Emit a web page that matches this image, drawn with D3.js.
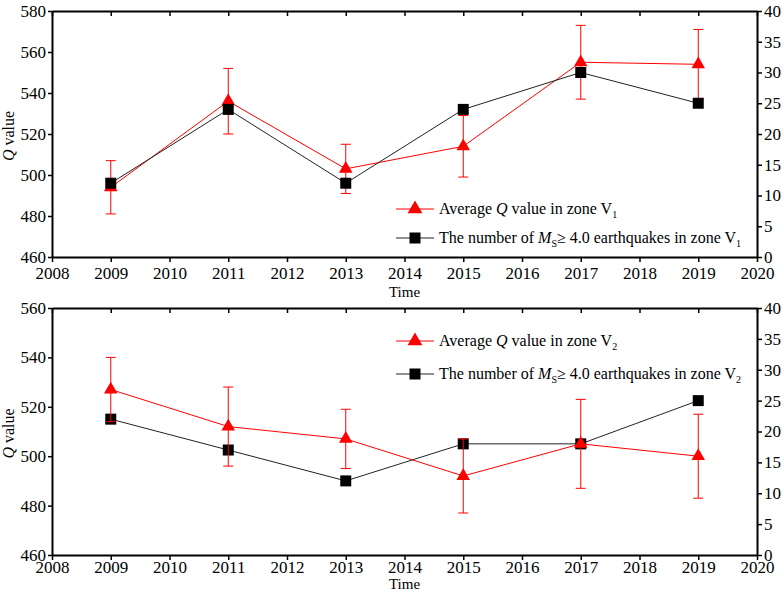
<!DOCTYPE html>
<html>
<head>
<meta charset="utf-8">
<script src="https://cdn.jsdelivr.net/npm/d3@7"></script>
<style>
  body { margin: 0; background: #fff; }
  svg { font-family: "Liberation Serif", "Times New Roman", serif; }
</style>
</head>
<body>
<div id="chart"></div>
<script>
// values
const years = [2009, 2011, 2013, 2015, 2017, 2019];
const qV1 = [494, 536, 503, 514, 555, 554];
const qV1Err = [13, 16, 12, 15, 18, 17];
const countV1 = [12, 24, 12, 24, 30, 25];
const qV2 = [527, 512, 507, 492, 505, 500];
const qV2Err = [13, 16, 12, 15, 18, 17];
const countV2 = [22, 17, 12, 18, 18, 25];

const xDomain = [2008, 2020];
const xTicks = d3.range(2008, 2021, 1);

const width = 782, height = 591;

const svg = d3.select("#chart")
  .append("svg")
  .attr("width", width)
  .attr("height", height);

const panels = [
  { top: 11, bottom: 257, qDomain: [460, 580], q: qV1, err: qV1Err, count: countV1,
    zone: "1", legendY: [209, 238], titleY: 297, xPad: 5, redOnTop: false },
  { top: 308, bottom: 555, qDomain: [460, 560], q: qV2, err: qV2Err, count: countV2,
    zone: "2", legendY: [341, 374], titleY: 589, xPad: 1, redOnTop: true }
];

const left = 52, right = 757;

const x = d3.scaleLinear().domain(xDomain).range([left, right]);

function legendText(sel, parts) {
  parts.forEach(p => {
    const t = sel.append("tspan").text(p.t);
    if (p.i) t.style("font-style", "italic");
    if (p.sub) t.attr("font-size", 10).attr("dy", 4);
    if (p.up) t.attr("dy", -4);
  });
}

panels.forEach(p => {
  const y = d3.scaleLinear().domain(p.qDomain).range([p.bottom, p.top]);
  const y2 = d3.scaleLinear().domain([0, 40]).range([p.bottom, p.top]);
  const g = svg.append("g");

  // axes
  const bottomAxis = g.append("g")
    .attr("transform", `translate(0,${p.bottom})`)
    .call(d3.axisBottom(x).tickValues(xTicks).tickFormat(d3.format("d"))
      .tickSizeInner(5).tickSizeOuter(0).tickPadding(p.xPad));
  const topAxis = g.append("g")
    .attr("transform", `translate(0,${p.top})`)
    .call(d3.axisTop(x).tickValues(xTicks).tickFormat("")
      .tickSizeInner(-5).tickSizeOuter(0));
  const leftAxis = g.append("g")
    .attr("transform", `translate(${left},0)`)
    .call(d3.axisLeft(y).ticks(6).tickSizeInner(4).tickSizeOuter(0).tickPadding(2));
  const rightAxis = g.append("g")
    .attr("transform", `translate(${right},0)`)
    .call(d3.axisRight(y2).ticks(8).tickSizeInner(5).tickSizeOuter(0).tickPadding(2));

  [bottomAxis, topAxis, leftAxis, rightAxis].forEach(a => {
    a.select(".domain").attr("stroke", "#000").attr("stroke-width", 2);
    a.selectAll(".tick line").attr("stroke", "#000").attr("stroke-width", 1.5);
    a.selectAll(".tick text")
      .attr("fill", "#000")
      .attr("font-size", 17)
      .attr("font-family", "Liberation Serif, Times New Roman, serif");
  });

  // axis titles
  g.append("text")
    .attr("x", (left + right) / 2)
    .attr("y", p.titleY)
    .attr("text-anchor", "middle")
    .attr("font-size", 15)
    .text("Time");

  const yl = g.append("text")
    .attr("transform", `translate(14,${(p.top + p.bottom) / 2 + 2}) rotate(-90)`)
    .attr("text-anchor", "middle")
    .attr("font-size", 16);
  yl.append("tspan").style("font-style", "italic").text("Q");
  yl.append("tspan").text(" value");

  const redLine = d3.line().x((d, i) => x(years[i])).y(d => y(d));
  const blackLine = d3.line().x((d, i) => x(years[i])).y(d => y2(d));

  function drawRed() {
    const r = g.append("g");
    r.append("path")
      .attr("d", redLine(p.q))
      .attr("fill", "none")
      .attr("stroke", "#ff0000")
      .attr("stroke-width", 1);
    const eb = r.selectAll(".err")
      .data(p.q)
      .join("g");
    eb.append("line")
      .attr("x1", (d, i) => x(years[i]))
      .attr("x2", (d, i) => x(years[i]))
      .attr("y1", (d, i) => y(d - p.err[i]))
      .attr("y2", (d, i) => y(d + p.err[i]))
      .attr("stroke", "#ff0000");
    [-1, 1].forEach(s => {
      eb.append("line")
        .attr("x1", (d, i) => x(years[i]) - 5)
        .attr("x2", (d, i) => x(years[i]) + 5)
        .attr("y1", (d, i) => y(d + s * p.err[i]))
        .attr("y2", (d, i) => y(d + s * p.err[i]))
        .attr("stroke", "#ff0000");
    });
    r.selectAll(".tri")
      .data(p.q)
      .join("path")
      .attr("d", d3.symbol(d3.symbolTriangle, 80))
      .attr("transform", (d, i) => `translate(${x(years[i])},${y(d)})`)
      .attr("fill", "#ff0000");
  }

  function drawBlack() {
    const b = g.append("g");
    b.append("path")
      .attr("d", blackLine(p.count))
      .attr("fill", "none")
      .attr("stroke", "#222")
      .attr("stroke-width", 1);
    b.selectAll(".sq")
      .data(p.count)
      .join("path")
      .attr("d", d3.symbol(d3.symbolSquare, 121))
      .attr("transform", (d, i) => `translate(${x(years[i])},${y2(d)})`)
      .attr("fill", "#000");
  }

  if (p.redOnTop) { drawBlack(); drawRed(); } else { drawRed(); drawBlack(); }

  // legend
  const lx0 = 396, lx1 = 434, lm = 415, tx = 439;
  const lg = g.append("g");
  lg.append("line").attr("x1", lx0).attr("x2", lx1)
    .attr("y1", p.legendY[0]).attr("y2", p.legendY[0])
    .attr("stroke", "#ff0000");
  lg.append("path")
    .attr("d", d3.symbol(d3.symbolTriangle, 95))
    .attr("transform", `translate(${lm},${p.legendY[0]})`)
    .attr("fill", "#ff0000");
  lg.append("line").attr("x1", lx0).attr("x2", lx1)
    .attr("y1", p.legendY[1]).attr("y2", p.legendY[1])
    .attr("stroke", "#222");
  lg.append("path")
    .attr("d", d3.symbol(d3.symbolSquare, 121))
    .attr("transform", `translate(${lm},${p.legendY[1]})`)
    .attr("fill", "#000");

  const t1 = lg.append("text")
    .attr("x", tx).attr("y", p.legendY[0] + 5)
    .attr("font-size", 16);
  legendText(t1, [
    { t: "Average " }, { t: "Q", i: true }, { t: " value in zone V" },
    { t: p.zone, sub: true }
  ]);

  const t2 = lg.append("text")
    .attr("x", tx).attr("y", p.legendY[1] + 5)
    .attr("font-size", 16);
  legendText(t2, [
    { t: "The number of " }, { t: "M", i: true }, { t: "S", sub: true },
    { t: "≥ 4.0 earthquakes in zone V", up: true }, { t: p.zone, sub: true }
  ]);
});
</script>
</body>
</html>
